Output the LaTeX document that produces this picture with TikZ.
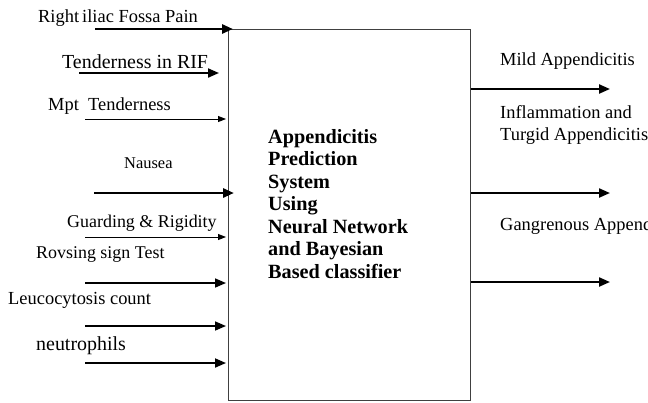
\documentclass[tikz,border=0pt]{standalone}
\usepackage{fontspec}
\setmainfont{Liberation Serif}
\usetikzlibrary{arrows.meta}
\tikzset{
  lbl/.style={anchor=base west, inner sep=0pt, font=\fontsize{18.5}{20}\selectfont},
  outlbl/.style={anchor=base west, inner sep=0pt, align=left, font=\fontsize{18.5}{22}\selectfont},
  inarrow/.style={draw=black, -{Triangle[length=11bp,width=9bp]}},
  thinarrow/.style={draw=black, line width=0.9bp, -{Triangle[length=8bp,width=6bp]}},
  sysbox/.style={draw=black!75, line width=1.2bp, anchor=north west, minimum width=242bp, minimum height=371bp, inner sep=0pt},
  systext/.style={anchor=north west, inner sep=0pt, align=left, font=\fontsize{20.3}{22.6}\selectfont\bfseries}
}
\begin{document}
\begin{tikzpicture}[x=1bp,y=-1bp]
\clip (0,0) rectangle (648,402);
\fill[white] (0,0) rectangle (648,402);
\node[sysbox] (box) at (228,29) {};
\node[systext] (sys) at (268,129) {Appendicitis\\Prediction\\System\\Using\\Neural Network\\and Bayesian\\Based classifier};
% input labels
\node[lbl] (l1) at (38,22) {Right\,iliac Fossa Pain};
\node[lbl, font=\fontsize{20}{20}\selectfont] (l2) at (62,68) {Tenderness in RIF};
\node[lbl] (l3) at (48,110) {Mpt\ \ Tenderness};
\node[lbl, font=\fontsize{16.5}{20}\selectfont] (l4) at (124,168) {Nausea};
\node[lbl, font=\fontsize{18}{20}\selectfont] (l5) at (67,227) {Guarding \& Rigidity};
\node[lbl, font=\fontsize{18}{20}\selectfont] (l6) at (36,258) {Rovsing sign Test};
\node[lbl] (l7) at (8,304) {Leucocytosis count};
\node[lbl, font=\fontsize{20}{20}\selectfont] (l8) at (36,350) {neutrophils};
% input start coordinates
\coordinate (s1) at (95,29);
\coordinate (s2) at (79,73);
\coordinate (s3) at (85,119);
\coordinate (s4) at (94,193);
\coordinate (s5) at (85,237);
\coordinate (s6) at (85,283);
\coordinate (s7) at (85,326);
\coordinate (s8) at (85,363);
\draw[inarrow, line width=2.8bp, shorten >=-5bp] (s1) -- (s1 -| box.west);
\draw[inarrow, line width=2bp, shorten >=9bp] (s2) -- (s2 -| box.west);
\draw[thinarrow, shorten >=2bp] (s3) -- (s3 -| box.west);
\draw[inarrow, line width=2.8bp, shorten >=-6bp] (s4) -- (s4 -| box.west);
\draw[thinarrow, shorten >=2bp] (s5) -- (s5 -| box.west);
\draw[inarrow, line width=1.6bp, shorten >=2bp] (s6) -- (s6 -| box.west);
\draw[inarrow, line width=1.6bp, shorten >=2bp] (s7) -- (s7 -| box.west);
\draw[inarrow, line width=1.8bp, shorten >=2bp] (s8) -- (s8 -| box.west);
% outputs
\coordinate (o1) at (610,89);
\coordinate (o2) at (610,193);
\coordinate (o3) at (610,282);
\draw[inarrow, line width=2.2bp] (o1 -| box.east) -- (o1);
\draw[inarrow, line width=2.2bp] (o2 -| box.east) -- (o2);
\draw[inarrow, line width=2.2bp] (o3 -| box.east) -- (o3);
\node[outlbl] (r1) at (500,65) {Mild Appendicitis};
\node[outlbl] (r2) at (500,140) {Inflammation and\\Turgid Appendicitis};
\node[outlbl] (r3) at (500,230) {Gangrenous Appendicitis};
\end{tikzpicture}
\end{document}
